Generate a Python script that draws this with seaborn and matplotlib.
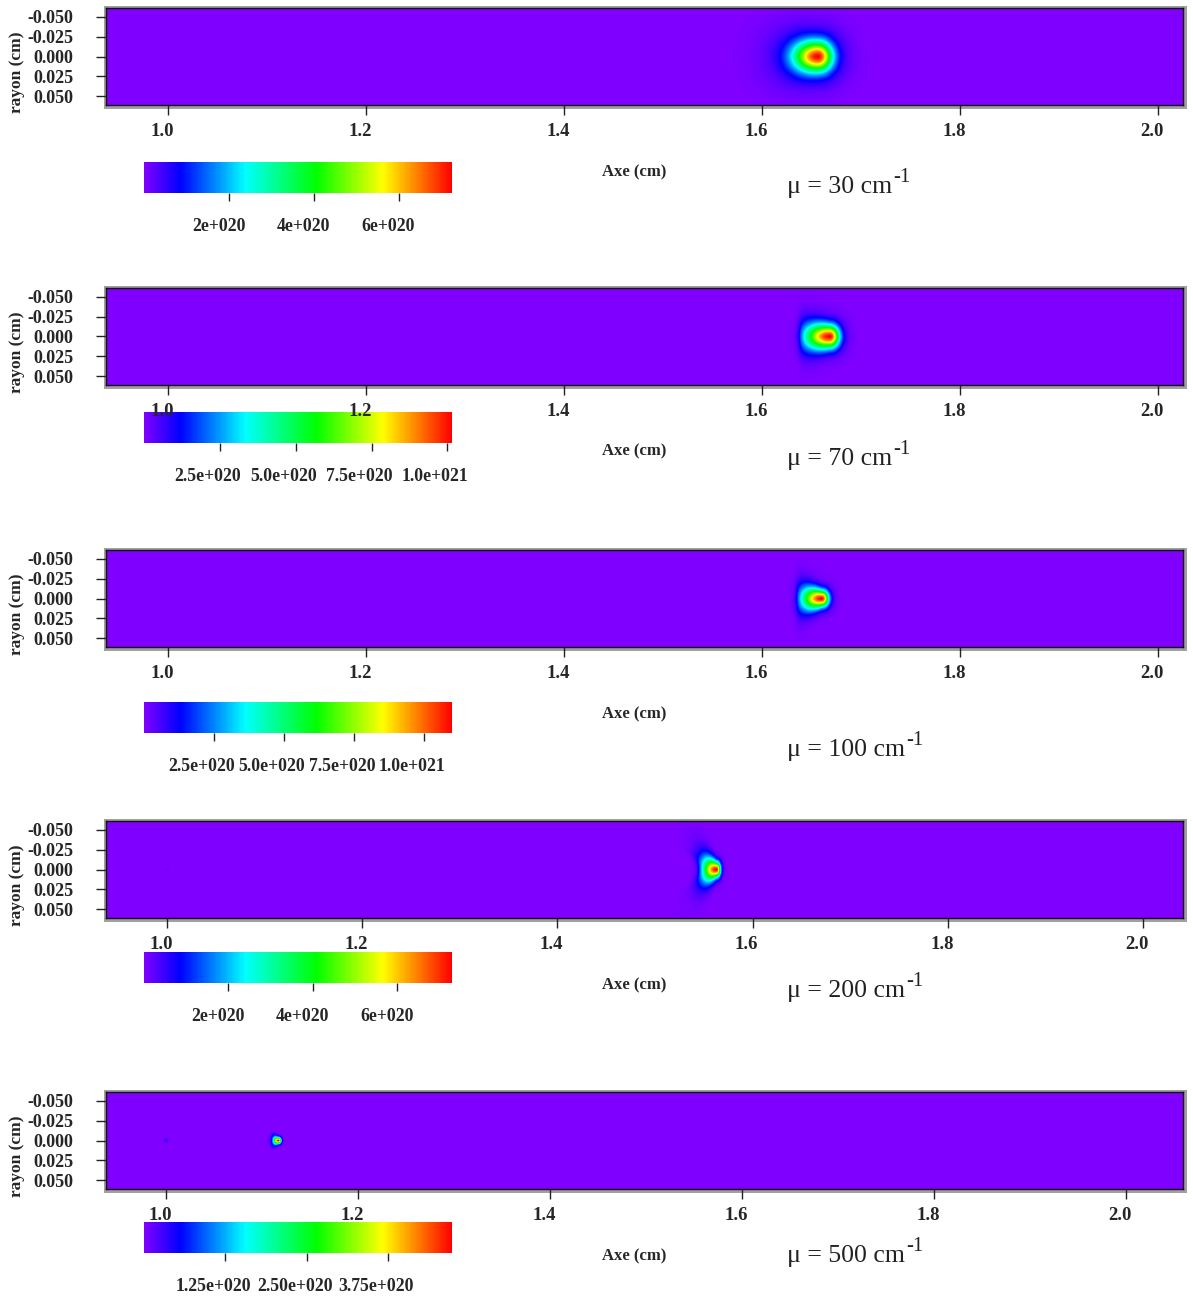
import numpy as np
import pandas as pd
import matplotlib
matplotlib.use('Agg')
import matplotlib.pyplot as plt
import seaborn as sns
from matplotlib.colors import LinearSegmentedColormap
from matplotlib.patches import Rectangle
from matplotlib.transforms import ScaledTranslation

# --- values ---
mu_values = [30, 70, 100, 200, 500]
x_min = 0.9375
x_max = [2.0253, 2.0253, 2.0253, 2.0410, 2.0594]
y_lim = 0.061

# source blob of each panel (cm, and peak value)
peak_x = [1.6566, 1.6687, 1.6606, 1.5635, 1.1167]
peak_val = [7.26e20, 1.015e21, 1.10e21, 7.31e20, 4.73e20]
sig_left = [0.0165, 0.0172, 0.0139, 0.0100, 0.0050]
sig_right = [0.0100, 0.0066, 0.0048, 0.0028, 0.0020]
sig_y = [0.0130, 0.0100, 0.0074, 0.0068, 0.0030]
sig_y_growth = [0.05, 0.13, 0.26, 0.55, 0.30]
halo = [0.13, 0.06, 0.05, 0.04, 0.0]
edge_x = [None, 1.6384, 1.6354, 1.5455, 1.1115]
edge_curv = [0, 0, 0, 25, 0]
tail_frac = [0, 0.25, 0.25, 0.3, 0.3]
tail_len = [0, 0.008, 0.008, 0.012, 0.006]
dot_frac = [0, 0, 0, 0.03, 0.08]

x_ticks = [1.0, 1.2, 1.4, 1.6, 1.8, 2.0]
x_tick_labels = ['1.0', '1.2', '1.4', '1.6', '1.8', '2.0']
y_ticks = [-0.05, -0.025, 0.0, 0.025, 0.05]
y_tick_labels = ['-0.050', '-0.025', '0.000', '0.025', '0.050']

cbar_ticks = [
    [2e20, 4e20, 6e20],
    [2.5e20, 5.0e20, 7.5e20, 1.0e21],
    [2.5e20, 5.0e20, 7.5e20, 1.0e21],
    [2e20, 4e20, 6e20],
    [1.25e20, 2.50e20, 3.75e20],
]
cbar_labels = [
    ['2e+020', '4e+020', '6e+020'],
    ['2.5e+020', '5.0e+020', '7.5e+020', '1.0e+021'],
    ['2.5e+020', '5.0e+020', '7.5e+020', '1.0e+021'],
    ['2e+020', '4e+020', '6e+020'],
    ['1.25e+020', '2.50e+020', '3.75e+020'],
]

# --- layout (pixels of the 1193x1296 picture) ---
W, H = 1193, 1296
ax_top = [8, 288, 550, 821, 1092]
ax_h = 97
cb_top = [162, 412, 702, 952, 1222]
cb_shift = [-10, -12, -12, -10, -12]
axe_y = [172, 451, 714, 985, 1256]
mu_base = [193, 465, 756, 997, 1262]
NX, NY = 1080, 100

sns.set_style('white')
plt.rcParams['font.family'] = ['Liberation Serif', 'DejaVu Serif']

cmap = LinearSegmentedColormap.from_list('idl_rainbow', [
    (0.0, '#8000ff'), (0.117, '#0000ff'), (0.328, '#00ffff'),
    (0.56, '#00ff00'), (0.776, '#ffff00'), (1.0, '#ff0000')])


def fx(px):
    return px / W


def fy(py):
    return 1 - py / H


def make_field(i):
    xe = np.linspace(x_min, x_max[i], NX + 1)
    ye = np.linspace(-y_lim, y_lim, NY + 1)
    xc = 0.5 * (xe[1:] + xe[:-1])
    yc = 0.5 * (ye[1:] + ye[:-1])
    X, Y = np.meshgrid(xc, yc)
    dx = X - peak_x[i]
    sx = np.where(dx < 0, sig_left[i], sig_right[i])
    sy = sig_y[i] + sig_y_growth[i] * np.clip(-dx, 0, None)
    g = np.exp(-0.5 * (dx / sx) ** 2 - 0.5 * (Y / sy) ** 2)
    g = g + halo[i] * np.exp(-0.5 * (dx / (2.0 * sx)) ** 2
                             - 0.5 * (Y / (2.0 * sy)) ** 2)
    if edge_x[i] is not None:
        edge = edge_x[i] - edge_curv[i] * Y ** 2
        step = 1 / (1 + np.exp(-(X - edge) / 0.0015))
        tail = tail_frac[i] * np.exp(-np.clip(edge - X, 0, None) / tail_len[i])
        g = g * (step + (1 - step) * tail)
    if dot_frac[i]:
        g = g + dot_frac[i] * np.exp(-((X - 1.0) ** 2) / (2 * 0.0016 ** 2)
                                      - (Y ** 2) / (2 * 0.002 ** 2))
    return pd.DataFrame(peak_val[i] * g / g.max())


fig = plt.figure(figsize=(W / 100, H / 100), dpi=100)
shift = ScaledTranslation(-6 / 100, 0, fig.dpi_scale_trans)
renderer = fig.canvas.get_renderer()

for i in range(5):
    top = ax_top[i]
    # grey frame around each map
    fig.patches.append(Rectangle((fx(104), fy(top + ax_h + 4)), fx(1187) - fx(104),
                                 (ax_h + 6) / H, transform=fig.transFigure,
                                 facecolor='#a0a0a0', edgecolor='none', zorder=-1))
    cax = fig.add_axes([fx(144), fy(cb_top[i] + 31), fx(452) - fx(144), 31 / H])
    ax = fig.add_axes([fx(106), fy(top + ax_h), fx(1183) - fx(106), ax_h / H])
    ax.set_zorder(2)

    field = make_field(i)
    sns.heatmap(field, ax=ax, cmap=cmap, vmin=0, vmax=peak_val[i],
                xticklabels=False, yticklabels=False, cbar_ax=cax,
                cbar_kws={'orientation': 'horizontal'}, rasterized=True)

    for sp in ax.spines.values():
        sp.set_visible(True)
        sp.set_color('#111111')
        sp.set_linewidth(1.0)

    xpos = [(v - x_min) / (x_max[i] - x_min) * NX for v in x_ticks]
    ypos = [(v + y_lim) / (2 * y_lim) * NY for v in y_ticks]
    ax.set_xticks(xpos)
    ax.set_xticklabels(x_tick_labels, fontsize=13.5, fontweight='bold', rotation=0)
    ax.set_yticks(ypos)
    ax.set_yticklabels(y_tick_labels, fontsize=13, fontweight='bold', rotation=0)
    ax.tick_params(axis='x', bottom=True, direction='out', length=7.2, width=1,
                   pad=5.5, color='#222222')
    ax.tick_params(axis='y', left=True, direction='out', length=7.5, width=1,
                   pad=16, color='#222222')
    for lab in ax.get_xticklabels():
        lab.set_transform(lab.get_transform() + shift)

    cb = ax.collections[0].colorbar
    cb.set_ticks(cbar_ticks[i])
    cb.set_ticklabels(cbar_labels[i])
    cb.outline.set_visible(False)
    cax.tick_params(axis='x', bottom=True, length=5.8, width=1, pad=12.5,
                    color='#222222', labelsize=12.8)
    cshift = ScaledTranslation(cb_shift[i] / 100, 0, fig.dpi_scale_trans)
    for lab in cax.get_xticklabels():
        lab.set_fontweight('bold')
        lab.set_transform(lab.get_transform() + cshift)

    fig.text(fx(17), fy(top + ax_h / 2 + 16), 'rayon (cm)', rotation=90,
             ha='center', va='center', fontsize=12.5, fontweight='bold')
    fig.text(fx(634), fy(axe_y[i]), 'Axe (cm)', ha='center', va='center',
             fontsize=12, fontweight='bold')
    mu_txt = fig.text(fx(787), fy(mu_base[i]), 'μ = %d cm' % mu_values[i],
                      ha='left', va='baseline', fontsize=18.5, color='#222222')
    bb = mu_txt.get_window_extent(renderer=renderer)
    fig.text(fx(bb.x1 + 1), fy(mu_base[i] - 11), '-1', ha='left', va='baseline',
             fontsize=15, color='#222222')

fig.savefig('out.png', dpi=100)
